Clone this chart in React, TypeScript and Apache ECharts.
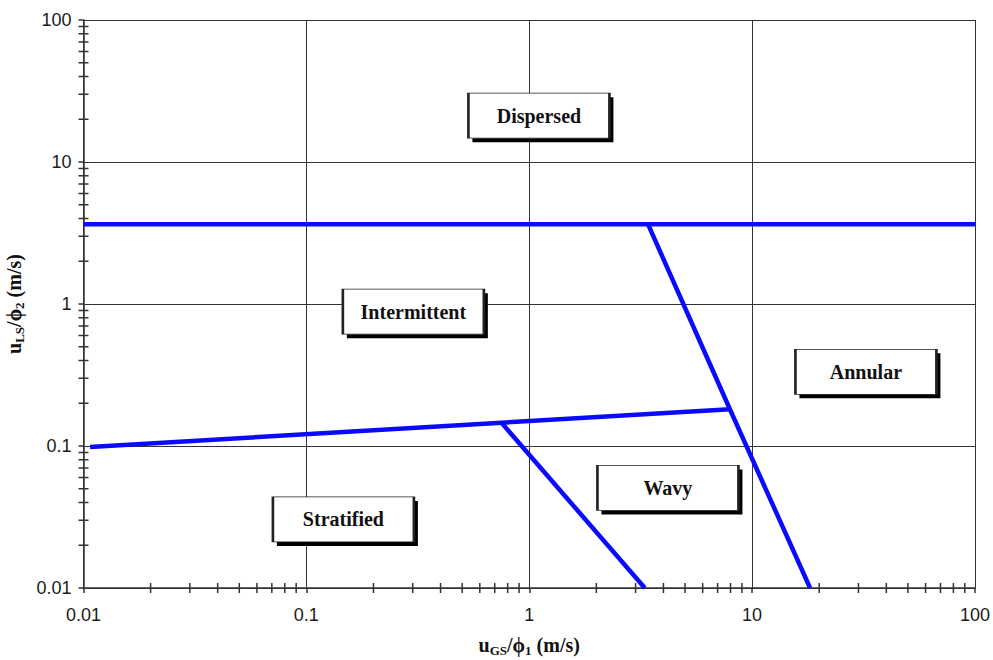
import React, { useEffect, useRef } from "react";
import * as echarts from "echarts";

const X_MIN = 0.01;
const X_MAX = 100;
const Y_MIN = 0.01;
const Y_MAX = 100;

const tickLabels = ["0.01", "0.1", "1", "10", "100"];
const decades = [0.01, 0.1, 1, 10];
const minorMultipliers = [2, 3, 4, 5, 6, 7, 8, 9];

// Boundary lines (x, y)
const dispersedBoundary: [number, number][] = [
  [0.01, 3.65],
  [100, 3.65],
];
const annularBoundary: [number, number][] = [
  [3.41, 3.65],
  [7.95, 0.1815],
  [18.2, 0.01],
];
const stratifiedBoundary: [number, number][] = [
  [0.0107, 0.0984],
  [7.95, 0.1815],
];
const wavyBoundary: [number, number][] = [
  [0.754, 0.1445],
  [3.3, 0.01],
];

const regionNames = ["Dispersed", "Intermittent", "Annular", "Wavy", "Stratified"];
const regionX = [1.105, 0.302, 32.4, 4.19, 0.1466];
const regionY = [21.2, 0.883, 0.333, 0.0507, 0.0304];

const minorTickValues: number[] = [];
decades.forEach((d) => minorMultipliers.forEach((m) => minorTickValues.push(d * m)));

const BLUE = "#0a0aff";
const LABEL_FONT = "Liberation Sans, Arial, sans-serif";
const SERIF = "Liberation Serif, Times New Roman, serif";

function labelFor(v: number): string {
  const i = Math.round(Math.log10(v)) + 2;
  return tickLabels[i] ?? String(v);
}

const titleRich = {
  u: { fontFamily: SERIF, fontSize: 20, fontWeight: "bold", color: "#111", lineHeight: 24 },
  sub: {
    fontFamily: SERIF,
    fontSize: 13,
    fontWeight: "bold",
    color: "#111",
    lineHeight: 10,
    verticalAlign: "bottom",
  },
};

export default function App() {
  const ref = useRef<HTMLDivElement>(null);
  useEffect(() => {
    if (!ref.current) return;
    const chart = echarts.init(ref.current, null, { renderer: "svg" });
    const regionData = regionNames.map((n, i) => ({ name: n, value: [regionX[i], regionY[i]] }));
    const boxSize = [141, 45];
    const lineSeries = (data: [number, number][]) => ({
      type: "line",
      data,
      symbol: "none",
      lineStyle: { color: BLUE, width: 4.5 },
      z: 5,
      silent: true,
    });
    const option: any = {
      animation: false,
      backgroundColor: "#ffffff",
      grid: {
        left: 83.5,
        right: 18,
        top: 20,
        bottom: 72,
        containLabel: false,
        outerBoundsMode: "none",
      },
      xAxis: {
        type: "log",
        logBase: 10,
        min: X_MIN,
        max: X_MAX,
        name: "{u|u}{sub|GS}{u|/ϕ}{sub|1}{u| (m/s)}",
        nameLocation: "middle",
        nameGap: 45,
        nameTextStyle: { rich: titleRich },
        axisLine: { show: true, lineStyle: { color: "#333", width: 1.5 } },
        axisTick: { show: true, length: 5, inside: false, lineStyle: { color: "#333", width: 1.5 } },
        minorTick: { show: false },
        splitLine: { show: true, lineStyle: { color: "#333", width: 1 } },
        axisLabel: {
          margin: 18,
          fontFamily: LABEL_FONT,
          fontSize: 18,
          color: "#1a1a1a",
          formatter: (v: number) => labelFor(v),
        },
      },
      yAxis: {
        type: "log",
        logBase: 10,
        min: Y_MIN,
        max: Y_MAX,
        name: "{u|u}{sub|LS}{u|/ϕ}{sub|2}{u| (m/s)}",
        nameLocation: "middle",
        nameRotate: 90,
        nameGap: 48,
        nameTextStyle: { rich: titleRich },
        axisLine: { show: true, lineStyle: { color: "#333", width: 1.5 } },
        axisTick: { show: true, length: 5, inside: false, lineStyle: { color: "#333", width: 1.5 } },
        minorTick: { show: false },
        splitLine: { show: true, lineStyle: { color: "#333", width: 1 } },
        axisLabel: {
          margin: 12,
          fontFamily: LABEL_FONT,
          fontSize: 18,
          color: "#1a1a1a",
          formatter: (v: number) => labelFor(v),
        },
      },
      series: [
        {
          type: "custom",
          clip: false,
          silent: true,
          data: minorTickValues.map((v) => [v, Y_MIN]),
          renderItem: (params: any, api: any) => {
            const p = api.coord([api.value(0), api.value(1)]);
            return {
              type: "line",
              shape: { x1: p[0], y1: p[1] - 5, x2: p[0], y2: p[1] + 5 },
              style: { stroke: "#333", lineWidth: 1.5 },
            };
          },
          z: 3,
        },
        {
          type: "custom",
          clip: false,
          silent: true,
          data: minorTickValues.map((v) => [X_MIN, v]),
          renderItem: (params: any, api: any) => {
            const p = api.coord([api.value(0), api.value(1)]);
            return {
              type: "line",
              shape: { x1: p[0] - 5, y1: p[1], x2: p[0] + 5, y2: p[1] },
              style: { stroke: "#333", lineWidth: 1.5 },
            };
          },
          z: 3,
        },
        lineSeries(dispersedBoundary),
        lineSeries(annularBoundary),
        lineSeries(stratifiedBoundary),
        lineSeries(wavyBoundary),
        {
          type: "scatter",
          data: regionData,
          symbol: "rect",
          symbolSize: boxSize,
          symbolOffset: [4, 4],
          itemStyle: { color: "#000", opacity: 1 },
          silent: true,
          z: 6,
        },
        {
          type: "scatter",
          data: regionData,
          symbol: "rect",
          symbolSize: boxSize,
          itemStyle: { color: "#fff", borderColor: "#222", borderWidth: 1.5, opacity: 1 },
          label: {
            show: true,
            position: "inside",
            formatter: (p: any) => p.name,
            fontFamily: SERIF,
            fontWeight: "bold",
            fontSize: 20,
            color: "#111",
          },
          silent: true,
          z: 7,
        },
      ],
    };
    chart.setOption(option);
    return () => chart.dispose();
  }, []);
  return (
    <div
      ref={ref}
      style={{ position: "absolute", left: 0, top: 0, width: 993, height: 660, background: "#fff" }}
    />
  );
}
